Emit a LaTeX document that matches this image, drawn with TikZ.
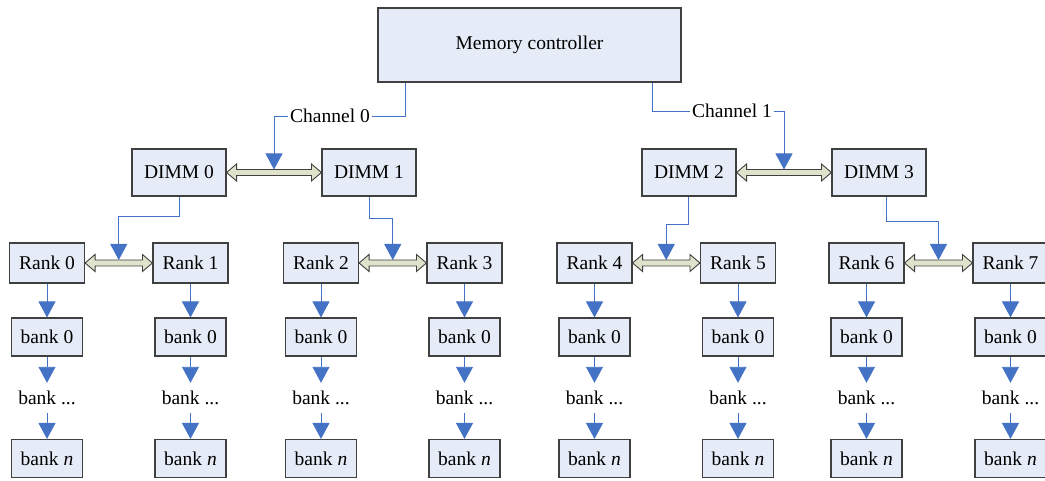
\documentclass[tikz,border=0pt]{standalone}
\usepackage{fontspec}
\setmainfont{Liberation Serif}
\usetikzlibrary{arrows.meta,calc}

\definecolor{boxfill}{HTML}{E6ECF7}
\definecolor{boxline}{HTML}{404040}
\definecolor{linkblue}{HTML}{4472C4}
\definecolor{busfill}{HTML}{DFE3CB}

% thick hollow two-way bus between two side-by-side boxes
\newcommand\busbar[2]{%
  \draw[bus] let \p1=(#1.east), \p2=(#2.west) in
    (\x1,\y1) -- (\x1+10pt,\y1+8.5pt) -- (\x1+10pt,\y1+3pt)
    -- (\x2-10pt,\y1+3pt) -- (\x2-10pt,\y1+8.5pt) -- (\x2,\y1)
    -- (\x2-10pt,\y1-8.5pt) -- (\x2-10pt,\y1-3pt)
    -- (\x1+10pt,\y1-3pt) -- (\x1+10pt,\y1-8.5pt) -- cycle;}

\begin{document}
\begin{tikzpicture}[x=1pt,y=-1pt,
  font=\fontsize{19.5pt}{22pt}\selectfont,
  box/.style={draw=boxline,fill=boxfill,line width=1.1pt,inner sep=0pt},
  ctrl/.style={box,minimum width=303pt,minimum height=74pt},
  dimm/.style={box,minimum width=94pt,minimum height=47pt},
  rankbox/.style={box,minimum width=75pt,minimum height=40pt},
  bankbox/.style={box,minimum width=71pt,minimum height=38pt},
  dots/.style={inner sep=0pt,minimum height=30pt},
  chan/.style={inner sep=2pt},
  link/.style={draw=linkblue,line width=0.9pt},
  feed/.style={link,-{Triangle[width=17pt,length=16pt,fill=linkblue]}},
  bus/.style={draw=boxline,fill=busfill,line width=0.9pt,line join=miter}]

\useasboundingbox (0,0) rectangle (1045,481);

% controller and channels
\node[ctrl] (mc) at (529.5,45) {Memory controller};
\node[chan] (ch0) at (330,116) {Channel 0};
\node[chan] (ch1) at (732,111) {Channel 1};

% DIMMs
\node[dimm] (d0) at (179,172.5) {DIMM 0};
\node[dimm] (d1) at (369,172.5) {DIMM 1};
\node[dimm] (d2) at (689,172.5) {DIMM 2};
\node[dimm] (d3) at (879,172.5) {DIMM 3};

% ranks with their bank columns
\foreach \i/\x in {0/47,1/190.5,2/321,3/464.5,4/594.5,5/738,6/866.5,7/1010.5}{
  \node[rankbox] (r\i) at (\x,263) {Rank \i};
  \node[bankbox] (b\i) at (\x,337) {bank 0};
  \node[dots]    (m\i) at (\x,398) {bank ...};
  \node[bankbox] (n\i) at (\x,458.5) {bank \textit{n}};
  \draw[feed] (r\i.south) -- (b\i.north);
  \draw[feed] (b\i.south) -- (m\i.north);
  \draw[feed] (m\i.south) -- (n\i.north);
}

% buses
\busbar{d0}{d1}
\busbar{d2}{d3}
\busbar{r0}{r1}
\busbar{r2}{r3}
\busbar{r4}{r5}
\busbar{r6}{r7}

% tap points on the top edge of each bus
\coordinate (t01) at ($(d0.east)!0.5!(d1.west)+(0,-3)$);
\coordinate (t23) at ($(d2.east)!0.5!(d3.west)+(0,-3)$);
\coordinate (s01) at ($(r0.east)!0.5!(r1.west)+(0,-3)$);
\coordinate (s23) at ($(r2.east)!0.5!(r3.west)+(0,-3)$);
\coordinate (s45) at ($(r4.east)!0.5!(r5.west)+(0,-3)$);
\coordinate (s67) at ($(r6.east)!0.5!(r7.west)+(0,-3)$);

% channel wiring
\draw[link] ([xshift=28pt]mc.south west) |- (ch0.east);
\draw[feed] (ch0.west) -| (t01);
\draw[link] ([xshift=-29pt]mc.south east) |- (ch1.west);
\draw[feed] (ch1.east) -| (t23);

% DIMM to rank buses
\draw[feed] (d0.south) -- ++(0,20) -| (s01);
\draw[feed] (d1.south) -- ++(0,22) -| (s23);
\draw[feed] ([xshift=-1pt]d2.south) -- ++(0,28) -| (s45);
\draw[feed] ([xshift=7pt]d3.south) -- ++(0,25) -| (s67);
\end{tikzpicture}
\end{document}
